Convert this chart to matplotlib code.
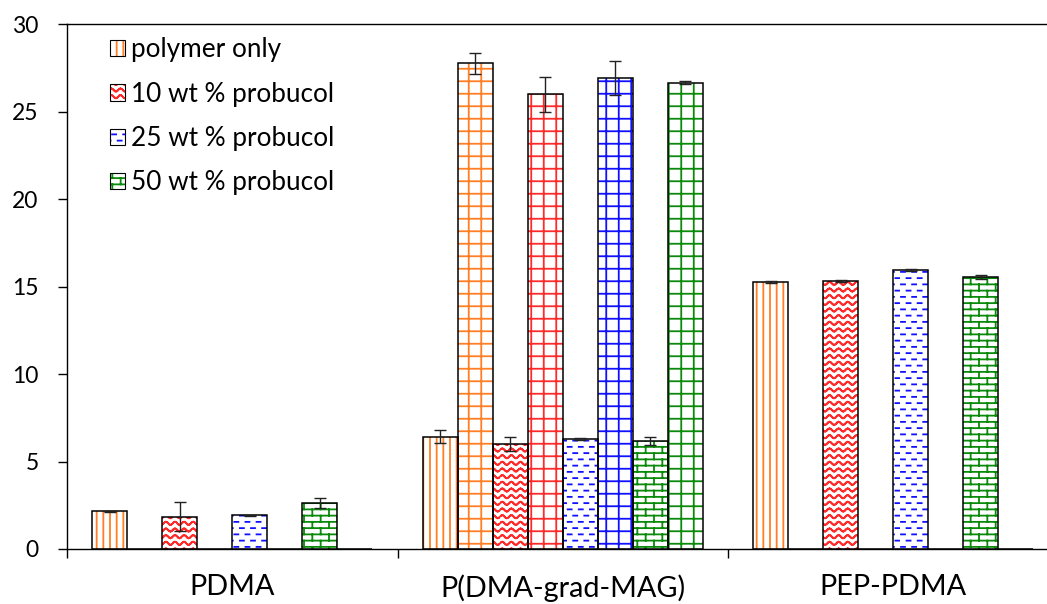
import warnings
import numpy as np
import matplotlib
matplotlib.use('Agg')
import matplotlib.pyplot as plt
import matplotlib.hatch as mhatch
from matplotlib.path import Path
import matplotlib.patches as mpatches

warnings.filterwarnings('ignore')

# data
groups = ['PDMA', 'P(DMA-grad-MAG)', 'PEP-PDMA']
poly = [2.17, 6.43, 15.26]
poly_err = [0.03, 0.38, 0.05]
poly_grid = [0, 27.77, 0]
poly_grid_err = [0, 0.6, 0]
p10 = [1.85, 6.0, 15.33]
p10_err = [0.84, 0.42, 0.08]
p10_grid = [0, 26.0, 0]
p10_grid_err = [0, 0.99, 0]
p25 = [1.93, 6.29, 15.96]
p25_err = [0.04, 0.03, 0.06]
p25_grid = [0, 26.93, 0]
p25_grid_err = [0, 0.99, 0]
p50 = [2.63, 6.19, 15.56]
p50_err = [0.31, 0.23, 0.12]
p50_grid = [0, 26.67, 0]
p50_grid_err = [0, 0.08, 0]
legend_labels = ['polymer only', '10 wt % probucol', '25 wt % probucol', '50 wt % probucol']


# --- custom hatches made of short line segments (unit tile) ---
def _vertical():
    return [((x, 0), (x, 1)) for x in (np.arange(15) + 0.5) / 15]


def _grid():
    c = (np.arange(8) + 0.5) / 8
    return [((x, 0), (x, 1)) for x in c] + [((0, y), (1, y)) for y in c]


def _wavy():
    segs = []
    xs = np.linspace(0, 1, 11 * 8 + 1)
    for y in (np.arange(15) + 0.5) / 15:
        ys = y + 0.015 * np.sin(2 * np.pi * 11 * xs)
        segs += [((xs[i], ys[i]), (xs[i + 1], ys[i + 1])) for i in range(len(xs) - 1)]
    return segs


def _dashes():
    segs = []
    for r, y in enumerate((np.arange(16) + 0.5) / 16):
        off = 0.5 / 9 if r % 2 else 0.0
        for j in range(9):
            x0 = (j / 9 + off + 0.01) % 1
            segs.append(((x0, y), (x0 + 0.04, y)))
    return segs


def _bricks():
    segs = []
    rows = 16
    for r in range(rows):
        y0 = (r + 0.5) / rows
        y1 = (r + 1.5) / rows
        segs.append(((0, y0), (1, y0)))
        off = 0.5 / 6 if r % 2 else 0.0
        for j in range(6):
            x = j / 6 + off + 0.04
            segs.append(((x, y0), (x, min(y1, 1.0))))
            if y1 > 1.0:
                segs.append(((x, 0), (x, y1 - 1)))
    return segs


class SegmentHatch(mhatch.HatchPatternBase):
    builders = {'v': _vertical, 'g': _grid, 'w': _wavy, 'd': _dashes, 'b': _bricks}

    def __init__(self, hatch, density):
        self.segs = []
        for ch, fn in self.builders.items():
            if ch in hatch:
                self.segs += fn()
        self.num_vertices = 2 * len(self.segs)

    def set_vertices_and_codes(self, vertices, codes):
        vertices[:] = np.asarray(self.segs, dtype=float).reshape(-1, 2)
        codes[0::2] = Path.MOVETO
        codes[1::2] = Path.LINETO


mhatch._hatch_types.append(SegmentHatch)

plt.rcParams['font.family'] = ['Lato', 'DejaVu Sans']
plt.rcParams['hatch.linewidth'] = 1.3

orange = '#FF7F27'
red = '#FF2A2A'
blue = '#1010FF'
green = '#0A8A0A'

values = [poly, poly_grid, p10, p10_grid, p25, p25_grid, p50, p50_grid]
errors = [poly_err, poly_grid_err, p10_err, p10_grid_err, p25_err, p25_grid_err, p50_err, p50_grid_err]
colors = [orange, orange, red, red, blue, blue, green, green]
hatches = ['v', 'g', 'w', 'g', 'd', 'g', 'b', 'g']

fig = plt.figure(figsize=(10.47, 6.04), dpi=100)
ax = fig.add_axes([0.064, 0.0911, 0.947, 0.8684])

x = np.arange(len(groups))
w = 35 / 330.5
for k, (vals, errs) in enumerate(zip(values, errors)):
    pos = x + (k - 3.5) * w
    ax.bar(pos, vals, w, color='white', edgecolor=colors[k], linewidth=0,
           hatch=hatches[k], zorder=2)
    ax.bar(pos, vals, w, color='none', edgecolor='black', linewidth=1.1, zorder=3)
    keep = np.array(vals) > 0
    ax.errorbar(pos[keep], np.array(vals)[keep], yerr=np.array(errs)[keep], fmt='none',
                ecolor='#222222', elinewidth=1.0, capsize=4, capthick=1.0, zorder=4)

ax.set_xlim(-0.5, 2.5)
ax.set_ylim(0, 30)
ax.set_yticks(range(0, 31, 5))
ax.set_xticks([-0.5, 0.5, 1.5, 2.5])
ax.set_xticklabels([])
ax.set_xticks(x, minor=True)
ax.set_xticklabels(groups, minor=True, fontsize=20.8)
ax.tick_params(axis='x', which='major', direction='out', length=6.5, width=1)
ax.tick_params(axis='x', which='minor', length=0, pad=18)
ax.tick_params(axis='y', direction='out', length=6.5, width=1, pad=14, labelsize=16.5)
ax.spines['right'].set_visible(False)
for s in ['left', 'bottom', 'top']:
    ax.spines[s].set_linewidth(1.0)

handles = [(mpatches.Patch(facecolor='white', edgecolor=c, hatch=h, linewidth=0),
            mpatches.Patch(facecolor='none', edgecolor='black', linewidth=0.8))
           for c, h in zip([orange, red, blue, green], ['v', 'w', 'd', 'b'])]
ax.legend(handles, legend_labels, loc='upper left', bbox_to_anchor=(0.02, 1.02),
          frameon=False, fontsize=18.8, handlelength=0.58, handleheight=0.58,
          handletextpad=0.2, labelspacing=0.74)

fig.savefig('out.png', dpi=100)
